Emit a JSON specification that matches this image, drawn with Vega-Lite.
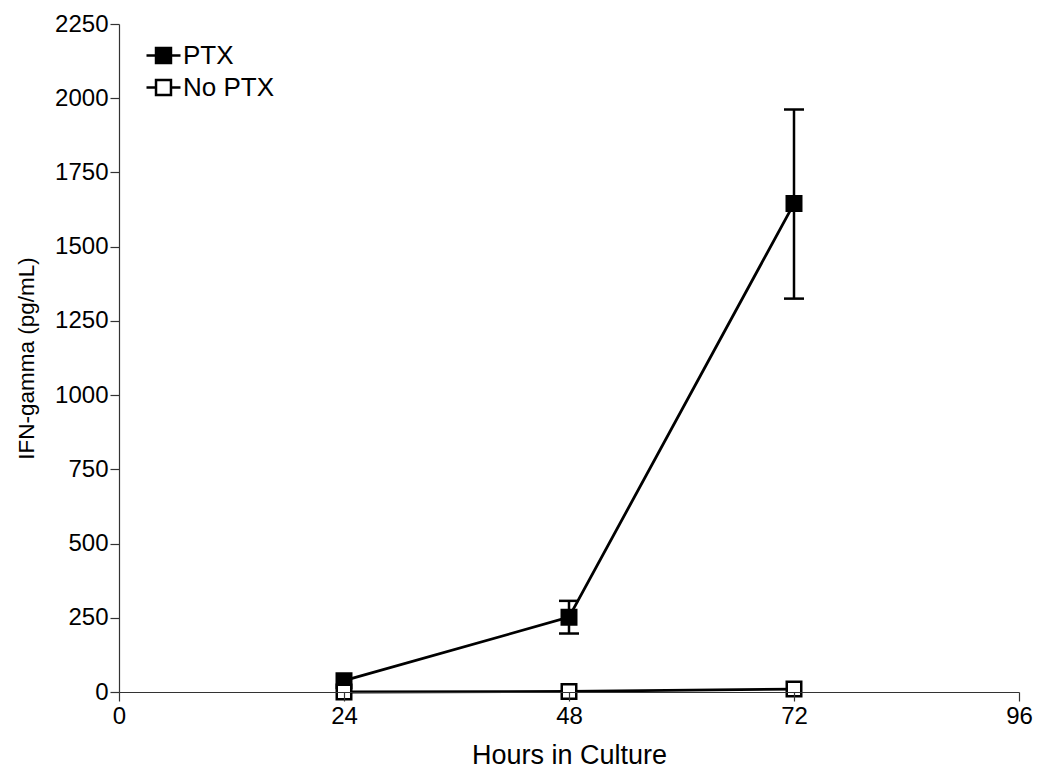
{
  "$schema": "https://vega.github.io/schema/vega-lite/v6.json",
  "autosize": {"type": "none"},
  "padding": {"left": 119, "top": 24, "right": 23, "bottom": 81},
  "width": 900,
  "height": 668,
  "background": "white",
  "config": {
    "font": "Liberation Sans",
    "view": {"stroke": null},
    "axis": {
      "grid": false,
      "domainColor": "#333333",
      "domainWidth": 1.2,
      "tickColor": "#333333",
      "tickWidth": 1.2,
      "tickSize": 9,
      "labelFont": "Liberation Sans",
      "labelFontSize": 24,
      "labelColor": "black",
      "labelFlush": false,
      "labelOverlap": false,
      "titleFont": "Liberation Sans",
      "titleFontSize": 27,
      "titleFontWeight": "normal",
      "titleColor": "black"
    }
  },
  "data": {
    "values": [
      {"hours": 24, "ifn": 38, "lo": 38, "hi": 38, "group": "PTX"},
      {"hours": 48, "ifn": 252, "lo": 197, "hi": 307, "group": "PTX"},
      {"hours": 72, "ifn": 1645, "lo": 1325, "hi": 1962, "group": "PTX"},
      {"hours": 24, "ifn": 0, "lo": 0, "hi": 0, "group": "No PTX"},
      {"hours": 48, "ifn": 2, "lo": 2, "hi": 2, "group": "No PTX"},
      {"hours": 72, "ifn": 10, "lo": 10, "hi": 10, "group": "No PTX"}
    ]
  },
  "encoding": {
    "x": {
      "field": "hours",
      "type": "quantitative",
      "scale": {"domain": [0, 96], "nice": false, "zero": false},
      "axis": {"values": [0, 24, 48, 72, 96], "format": "d", "title": "Hours in Culture", "titlePadding": 14, "labelPadding": 3, "zindex": 1}
    }
  },
  "layer": [
    {
      "transform": [{"filter": "datum.hi > datum.lo"}],
      "mark": {"type": "rule", "color": "black", "strokeWidth": 2.5},
      "encoding": {
        "y": {"field": "lo", "type": "quantitative"},
        "y2": {"field": "hi"}
      }
    },
    {
      "transform": [{"filter": "datum.hi > datum.lo"}],
      "mark": {"type": "tick", "orient": "horizontal", "color": "black", "opacity": 1, "size": 20, "thickness": 2.5},
      "encoding": {"y": {"field": "hi", "type": "quantitative"}}
    },
    {
      "transform": [{"filter": "datum.hi > datum.lo"}],
      "mark": {"type": "tick", "orient": "horizontal", "color": "black", "opacity": 1, "size": 20, "thickness": 2.5},
      "encoding": {"y": {"field": "lo", "type": "quantitative"}}
    },
    {
      "mark": {"type": "line", "color": "black", "strokeWidth": 2.8},
      "encoding": {
        "y": {"field": "ifn", "type": "quantitative"},
        "detail": {"field": "group"}
      }
    },
    {
      "mark": {"type": "point", "shape": "square", "filled": true, "size": 210, "stroke": "black", "strokeWidth": 2.5, "opacity": 1},
      "encoding": {
        "y": {
          "field": "ifn",
          "type": "quantitative",
          "scale": {"domain": [0, 2250], "nice": false},
          "axis": {"values": [0, 250, 500, 750, 1000, 1250, 1500, 1750, 2000, 2250], "format": "d", "title": "IFN-gamma (pg/mL)", "titleFontSize": 22.5, "titlePadding": 16, "labelPadding": 2}
        },
        "fill": {
          "field": "group",
          "type": "nominal",
          "sort": ["PTX", "No PTX"],
          "scale": {"domain": ["PTX", "No PTX"], "range": ["black", "white"]},
          "legend": {
            "title": null,
            "orient": "none",
            "legendX": 26,
            "legendY": 13,
            "padding": 0,
            "symbolType": "M-1,0H-0.44M0.44,0H1M-0.44,-0.44H0.44V0.44H-0.44Z",
            "symbolSize": 1156,
            "symbolStrokeColor": "black",
            "symbolStrokeWidth": 2.5,
            "labelFont": "Liberation Sans",
            "labelFontSize": 26,
            "labelColor": "black",
            "labelOffset": 1,
            "rowPadding": -1
          }
        },
        "order": {"field": "group", "sort": "descending"}
      }
    }
  ]
}
